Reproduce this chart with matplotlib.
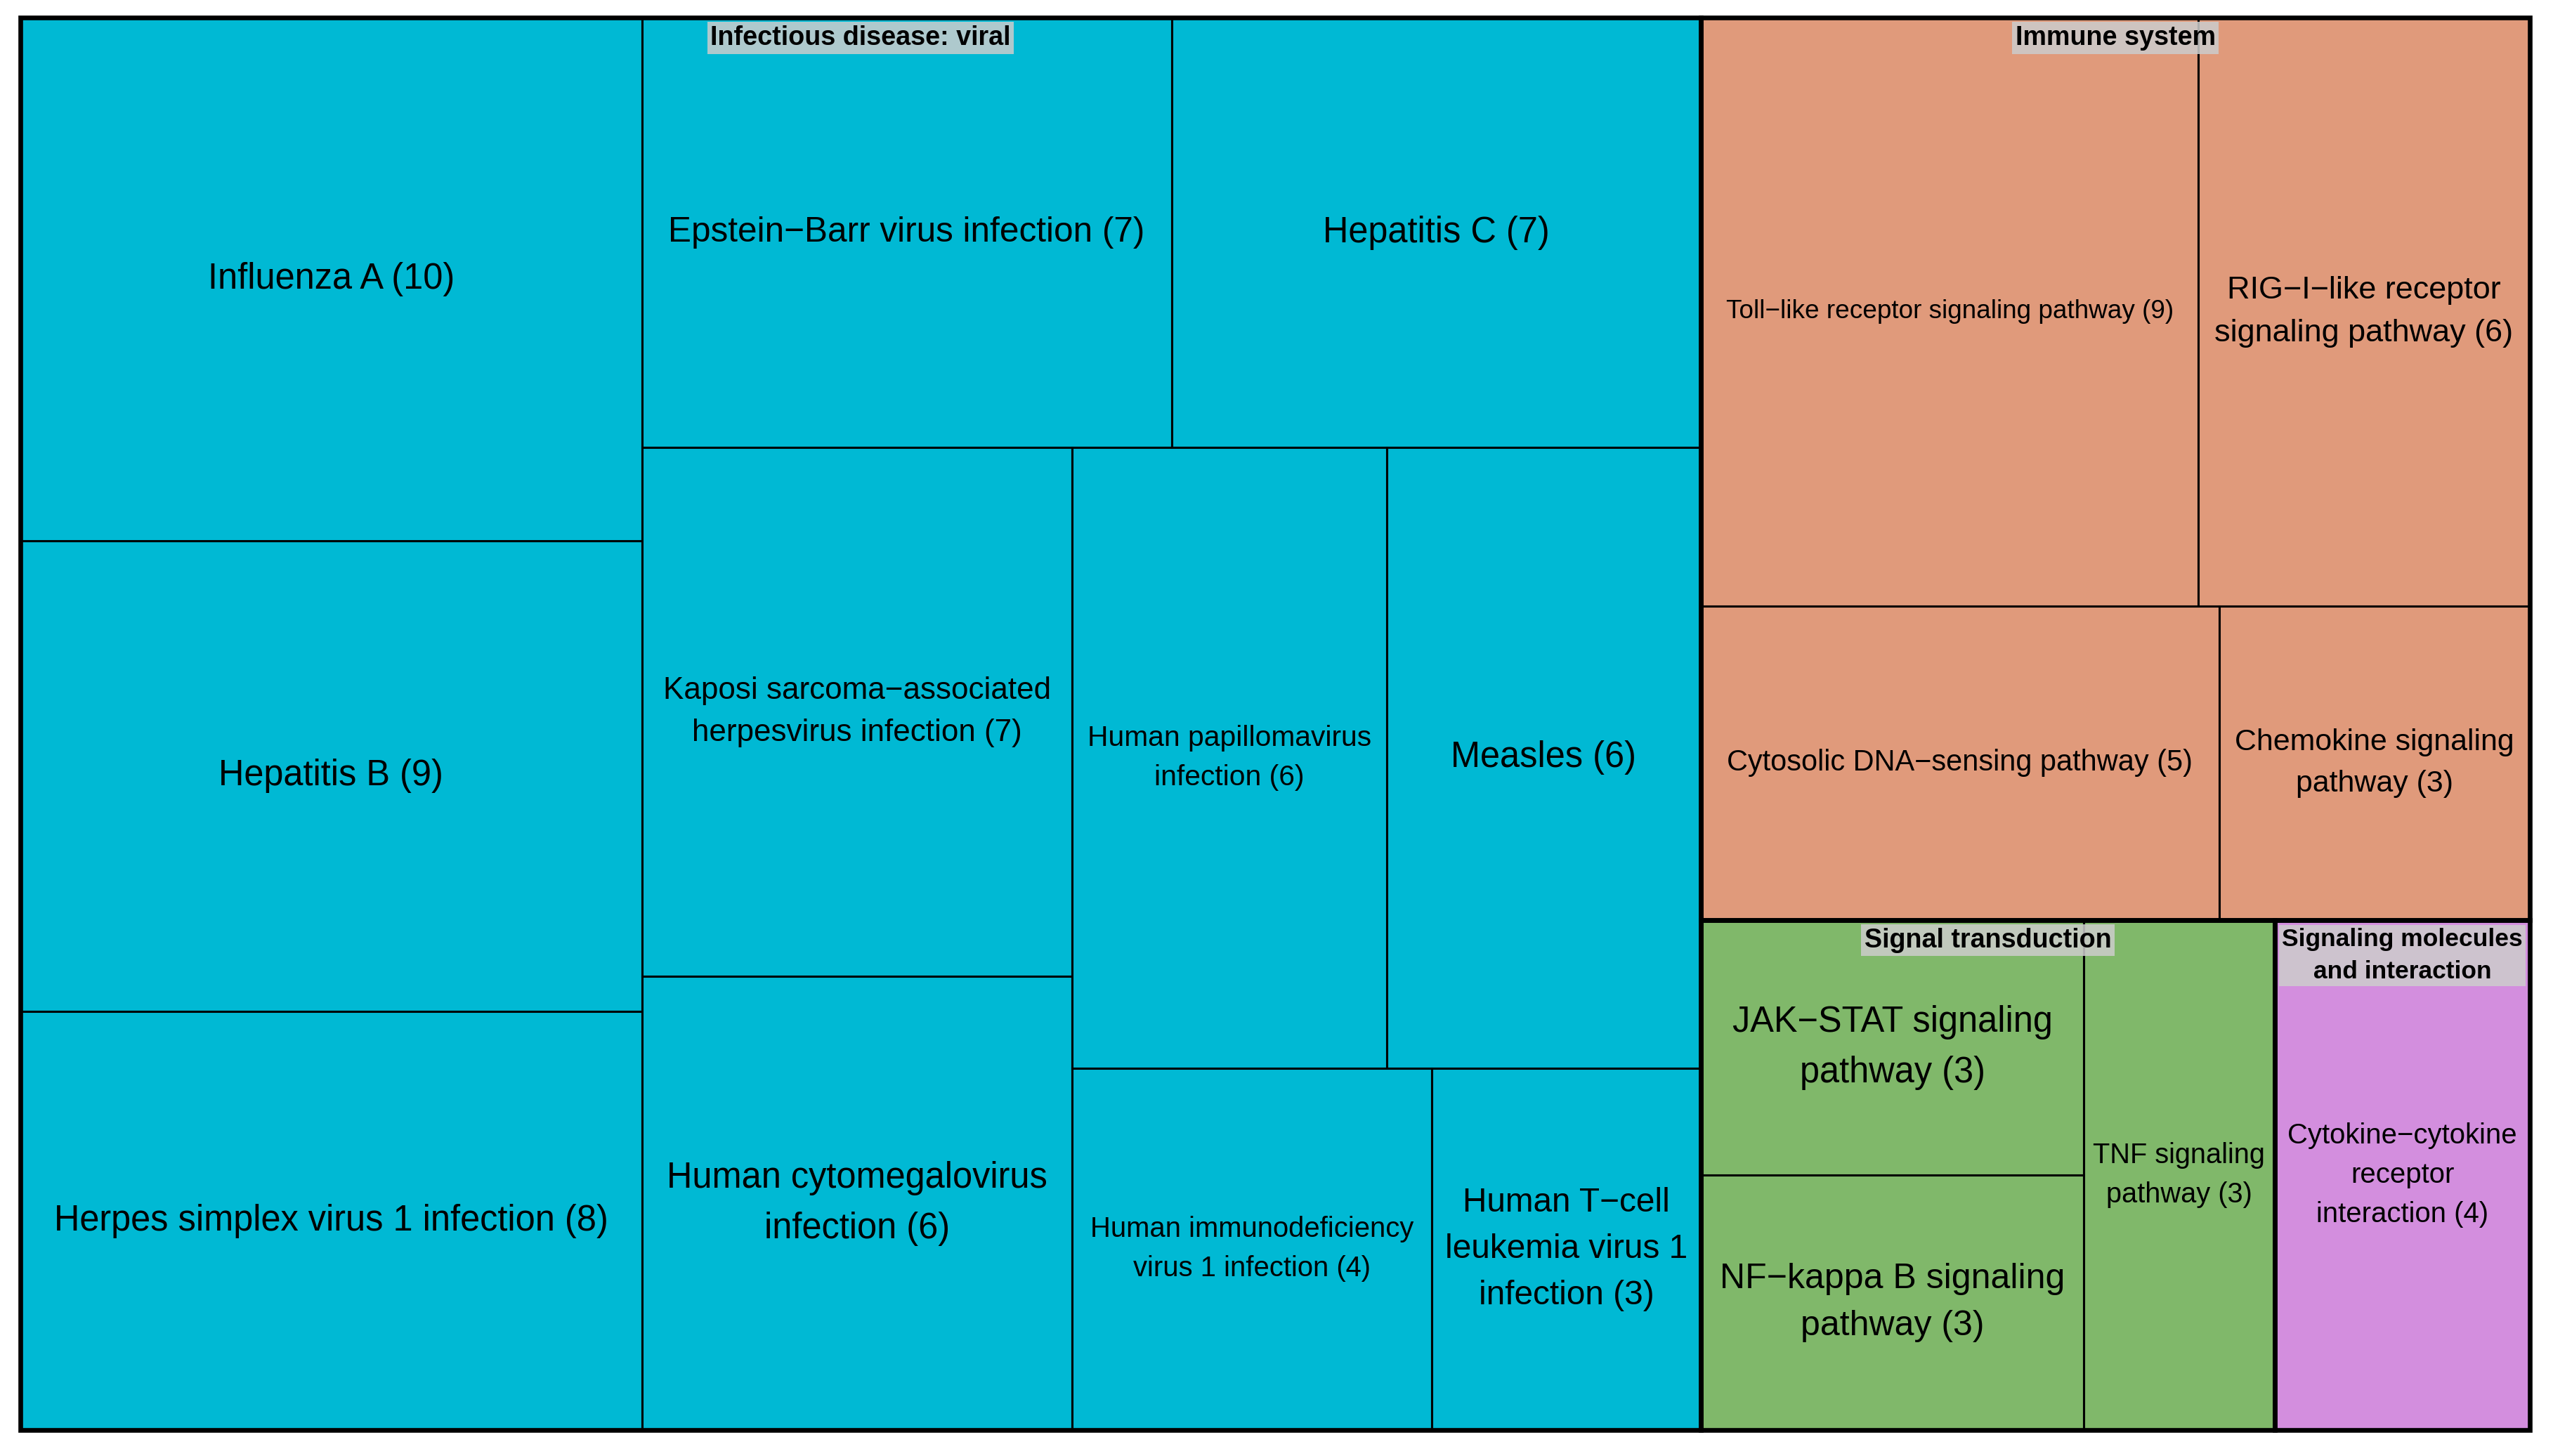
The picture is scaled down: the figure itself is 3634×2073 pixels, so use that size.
""" KEGG pathway treemap: gene counts per pathway, grouped by category """
from matplotlib import pyplot as plt
from matplotlib.patches import Rectangle

plt.rcParams['font.family'] = ['Liberation Sans', 'DejaVu Sans']

# categories and their fill colours
groups = ['Infectious disease: viral', 'Immune system', 'Signal transduction',
          'Signaling molecules\nand interaction']
group_colors = ['#00B9D4', '#E09A7B', '#80B86A', '#D38EDE']

# pathways (line breaks as in the original labels), gene counts, category index
pathways = ['Influenza A', 'Hepatitis B', 'Herpes simplex virus 1 infection',
            'Epstein\u2212Barr virus infection', 'Hepatitis C',
            'Kaposi sarcoma\u2212associated\nherpesvirus infection',
            'Human cytomegalovirus\ninfection',
            'Human papillomavirus\ninfection', 'Measles',
            'Human immunodeficiency\nvirus 1 infection',
            'Human T\u2212cell\nleukemia virus 1\ninfection',
            'Toll\u2212like receptor signaling pathway',
            'RIG\u2212I\u2212like receptor\nsignaling pathway',
            'Cytosolic DNA\u2212sensing pathway',
            'Chemokine signaling\npathway',
            'JAK\u2212STAT signaling\npathway',
            'NF\u2212kappa B signaling\npathway',
            'TNF signaling\npathway',
            'Cytokine\u2212cytokine\nreceptor\ninteraction']
counts = [10, 9, 8, 7, 7, 7, 6, 6, 6, 4, 3, 9, 6, 5, 3, 3, 3, 3, 4]
category = [0] * 11 + [1] * 4 + [2] * 3 + [3]


# squarified layout (Bruls et al.), sizes already in area units
def layout(sizes, x, y, dx, dy):
    total = sum(sizes)
    rects = []
    if dx >= dy:
        width = total / dy
        for s in sizes:
            rects.append((x, y, width, s / width))
            y += s / width
    else:
        height = total / dx
        for s in sizes:
            rects.append((x, y, s / height, height))
            x += s / height
    return rects


def leftover(sizes, x, y, dx, dy):
    total = sum(sizes)
    if dx >= dy:
        width = total / dy
        return x + width, y, dx - width, dy
    height = total / dx
    return x, y + height, dx, dy - height


def worst(sizes, x, y, dx, dy):
    return max(max(w / h, h / w) for _, _, w, h in layout(sizes, x, y, dx, dy))


def squarify(sizes, x, y, dx, dy):
    if not sizes:
        return []
    i = 1
    while i < len(sizes) and worst(sizes[:i], x, y, dx, dy) >= worst(sizes[:i + 1], x, y, dx, dy):
        i += 1
    return layout(sizes[:i], x, y, dx, dy) + squarify(sizes[i:], *leftover(sizes[:i], x, y, dx, dy))


def normalize(values, dx, dy):
    total = float(sum(values))
    return [v * dx * dy / total for v in values]


DPI = 200
fig = plt.figure(figsize=(18.17, 10.365), dpi=DPI)
ax_box = [0.00798, 0.01785, 0.98294, 0.97009]
ax = fig.add_axes(ax_box)
W = fig.get_figwidth() * ax_box[2]
H = fig.get_figheight() * ax_box[3]
ax.set_xlim(0, W)
ax.set_ylim(H, 0)
ax.axis('off')

# level 1: categories
group_totals = [sum(c for c, g in zip(counts, category) if g == k) for k in range(len(groups))]
g_order = sorted(range(len(groups)), key=lambda k: -group_totals[k])
g_rects = squarify(normalize([group_totals[k] for k in g_order], W, H), 0, 0, W, H)

leaf_texts = []
group_texts = []
for k, (gx, gy, gw, gh) in zip(g_order, g_rects):
    # level 2: pathways inside the category
    idx = [i for i in range(len(pathways)) if category[i] == k]
    idx = sorted(idx, key=lambda i: -counts[i])
    rects = squarify(normalize([counts[i] for i in idx], gw, gh), gx, gy, gw, gh)
    for i, (x, y, w, h) in zip(idx, rects):
        ax.add_patch(Rectangle((x, y), w, h, facecolor=group_colors[k], edgecolor='black',
                               linewidth=1.1, zorder=1, clip_on=False))
        t = ax.text(x + w / 2, y + h / 2, '{} ({})'.format(pathways[i], counts[i]),
                    ha='center', va='center', multialignment='center',
                    fontsize=18.2, color='black', zorder=3, linespacing=1.6)
        leaf_texts.append((t, w, h))
    ax.add_patch(Rectangle((gx, gy), gw, gh, facecolor='none', edgecolor='black',
                           linewidth=2.4, zorder=2, clip_on=False))
    t = ax.text(gx + gw / 2, gy + 0.055, groups[k], ha='center', va='top',
                multialignment='center', fontsize=13.6, fontweight='bold', zorder=4,
                linespacing=1.5,
                bbox=dict(boxstyle='square,pad=0.12', facecolor=(0.8, 0.8, 0.8, 0.86),
                          edgecolor='none'))
    group_texts.append((t, gw, gh))

# shrink labels that do not fit their rectangle
fig.canvas.draw()
renderer = fig.canvas.get_renderer()
for items, frac in ((leaf_texts, 0.9), (group_texts, 0.94)):
    for t, w, h in items:
        bb = t.get_window_extent(renderer)
        scale = min(1.0, frac * w * DPI / bb.width, frac * h * DPI / bb.height)
        t.set_fontsize(t.get_fontsize() * scale)

fig.savefig('out.png', dpi=DPI)
